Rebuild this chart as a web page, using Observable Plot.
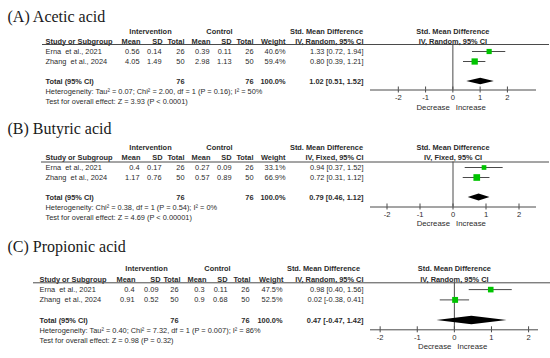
<!DOCTYPE html>
<html><head><meta charset="utf-8">
<script src="https://cdn.jsdelivr.net/npm/d3@7"></script>
<script src="https://cdn.jsdelivr.net/npm/@observablehq/plot@0.6"></script>
<style>
body{margin:0;background:#fff;}
#wrap{position:relative;width:550px;height:358px;overflow:hidden;background:#fff}
#wrap svg{position:absolute;left:0}
</style></head><body><div id="wrap"></div>
<script>
// ---------- shared ----------
const studies = ["Erna\u00a0\u00a0et al., 2021", "Zhang\u00a0\u00a0et al., 2024"];
const totalLabel = "Total (95% CI)";
const axisTicks = [-2, -1, 0, 1, 2];
const nullEffect = 0;

// ---------- (A) Acetic acid ----------
const aTitle = "(A) Acetic acid";
const aMethod = "IV, Random, 95% CI";
const aIntMean = [0.56, 4.05], aIntSD = [0.14, 1.49], aIntN = [26, 50];
const aCtlMean = [0.39, 2.98], aCtlSD = [0.11, 1.13], aCtlN = [26, 50];
const aWeight = [40.6, 59.4];
const aSMD = [1.33, 0.80], aLow = [0.72, 0.39], aHigh = [1.94, 1.21];
const aTotalN = [76, 76];
const aTotal = [1.02, 0.51, 1.52];
const aHet = "Heterogeneity: Tau² = 0.07; Chi² = 2.00, df = 1 (P = 0.16); I² = 50%";
const aTest = "Test for overall effect: Z = 3.93 (P < 0.0001)";

// ---------- (B) Butyric acid ----------
const bTitle = "(B) Butyric acid";
const bMethod = "IV, Fixed, 95% CI";
const bIntMean = [0.4, 1.17], bIntSD = [0.17, 0.76], bIntN = [26, 50];
const bCtlMean = [0.27, 0.57], bCtlSD = [0.09, 0.89], bCtlN = [26, 50];
const bWeight = [33.1, 66.9];
const bSMD = [0.94, 0.72], bLow = [0.37, 0.31], bHigh = [1.52, 1.12];
const bTotalN = [76, 76];
const bTotal = [0.79, 0.46, 1.12];
const bHet = "Heterogeneity: Chi² = 0.38, df = 1 (P = 0.54); I² = 0%";
const bTest = "Test for overall effect: Z = 4.69 (P < 0.00001)";

// ---------- (C) Propionic acid ----------
const cTitle = "(C) Propionic acid";
const cMethod = "IV, Random, 95% CI";
const cIntMean = [0.4, 0.91], cIntSD = [0.09, 0.52], cIntN = [26, 50];
const cCtlMean = [0.3, 0.9], cCtlSD = [0.11, 0.68], cCtlN = [26, 50];
const cWeight = [47.5, 52.5];
const cSMD = [0.98, 0.02], cLow = [0.40, -0.38], cHigh = [1.56, 0.41];
const cTotalN = [76, 76];
const cTotal = [0.47, -0.47, 1.42];
const cHet = "Heterogeneity: Tau² = 0.40; Chi² = 7.32, df = 1 (P = 0.007); I² = 86%";
const cTest = "Test for overall effect: Z = 0.98 (P = 0.32)";

// ---------- layout (pixels): [header right edge, value right edge] ----------
const layoutAB = {
  study: 45, intvC: 150, ctlC: 219, smdC: 326,
  intMean: [140, 139], intSD: [162, 161], intN: [184, 184],
  ctlMean: [210, 209], ctlSD: [231, 231], ctlN: [253, 253],
  weight: [285, 285], smd: [363, 363]
};
const layoutC = {
  study: 39, intvC: 146, ctlC: 217, smdC: 323,
  intMean: [135, 134], intSD: [160, 158], intN: [180, 178],
  ctlMean: [206, 204], ctlSD: [227, 227], ctlN: [250, 249],
  weight: [283, 282], smd: [363, 363]
};
const panels = [
  {P: {title: aTitle, method: aMethod, intMean: aIntMean, intSD: aIntSD, intN: aIntN, ctlMean: aCtlMean, ctlSD: aCtlSD, ctlN: aCtlN,
       weight: aWeight, smd: aSMD, low: aLow, high: aHigh, totalN: aTotalN, total: aTotal, het: aHet, test: aTest},
   L: {top: 0, height: 116, left: 370, right: 535, frameTop: 44, axisY: 89.5, y0: 31, y1: 101, titleY: 21,
       xdom: [-3.02, 3.03], lineLeft: 42, lineRight: 548, cols: layoutAB, dia: 0.33, rMax: 4.6, decDy: 17.2}},
  {P: {title: bTitle, method: bMethod, intMean: bIntMean, intSD: bIntSD, intN: bIntN, ctlMean: bCtlMean, ctlSD: bCtlSD, ctlN: bCtlN,
       weight: bWeight, smd: bSMD, low: bLow, high: bHigh, totalN: bTotalN, total: bTotal, het: bHet, test: bTest},
   L: {top: 116, height: 122, left: 370, right: 535, frameTop: 45.5, axisY: 90.5, y0: 31, y1: 101, titleY: 17.5,
       xdom: [-2.5, 2.5], lineLeft: 41, lineRight: 548, cols: layoutAB, dia: 0.36, rMax: 4.6, decDy: 16.5}},
  {P: {title: cTitle, method: cMethod, intMean: cIntMean, intSD: cIntSD, intN: cIntN, ctlMean: cCtlMean, ctlSD: cCtlSD, ctlN: cCtlN,
       weight: cWeight, smd: cSMD, low: cLow, high: cHigh, totalN: cTotalN, total: cTotal, het: cHet, test: cTest},
   L: {top: 238, height: 120, left: 370, right: 537, frameTop: 44.3, axisY: 91.3, y0: 30.5, y1: 102.6, titleY: 13,
       xdom: [-2.26, 2.24], lineLeft: 33, lineRight: 549, cols: layoutC, dia: 0.42, rMax: 4.6, decDy: 16.7}}
];

const ink = "#2b2b2b";
const lineInk = "#4a4a4a";
const green = "#00c400";

function buildPanel(P, L) {
  const C = L.cols;
  const rows = studies.map((s, i) => ({study: s, row: 2 + i, smd: P.smd[i], lo: P.low[i], hi: P.high[i], w: P.weight[i]}));
  const totRow = 5;
  const [tEst, tLo, tHi] = P.total;
  const diamond = [
    {x: tLo, y1: totRow, y2: totRow},
    {x: tEst, y1: totRow - L.dia, y2: totRow + L.dia},
    {x: tHi, y1: totRow, y2: totRow}
  ];
  const f2 = v => v.toFixed(2);
  const ci = (e, l, h) => `${f2(e)} [${f2(l)}, ${f2(h)}]`;
  const cells = [];
  cells.push({t: "Intervention", row: 0, px: C.intvC, a: "middle", b: true});
  cells.push({t: "Control", row: 0, px: C.ctlC, a: "middle", b: true});
  cells.push({t: "Std. Mean Difference", row: 0, px: C.smdC, a: "middle", b: true});
  cells.push({t: "Study or Subgroup", row: 1, px: C.study, a: "start", b: true});
  [["Mean", "intMean"], ["SD", "intSD"], ["Total", "intN"], ["Mean", "ctlMean"], ["SD", "ctlSD"], ["Total", "ctlN"], ["Weight", "weight"]]
    .forEach(([t, k]) => cells.push({t, row: 1, px: C[k][0], a: "end", b: true}));
  cells.push({t: P.method, row: 1, px: C.smd[0], a: "end", b: true});
  studies.forEach((s, i) => {
    const r = 2 + i;
    cells.push({t: s, row: r, px: C.study, a: "start"});
    cells.push({t: String(P.intMean[i]), row: r, px: C.intMean[1], a: "end"});
    cells.push({t: String(P.intSD[i]), row: r, px: C.intSD[1], a: "end"});
    cells.push({t: String(P.intN[i]), row: r, px: C.intN[1], a: "end"});
    cells.push({t: String(P.ctlMean[i]), row: r, px: C.ctlMean[1], a: "end"});
    cells.push({t: String(P.ctlSD[i]), row: r, px: C.ctlSD[1], a: "end"});
    cells.push({t: String(P.ctlN[i]), row: r, px: C.ctlN[1], a: "end"});
    cells.push({t: P.weight[i].toFixed(1) + "%", row: r, px: C.weight[1], a: "end"});
    cells.push({t: ci(P.smd[i], P.low[i], P.high[i]), row: r, px: C.smd[1], a: "end"});
  });
  cells.push({t: totalLabel, row: totRow, px: C.study, a: "start", b: true});
  cells.push({t: String(P.totalN[0]), row: totRow, px: C.intN[1], a: "end", b: true});
  cells.push({t: String(P.totalN[1]), row: totRow, px: C.ctlN[1], a: "end", b: true});
  cells.push({t: d3.sum(P.weight).toFixed(1) + "%", row: totRow, px: C.weight[1], a: "end", b: true});
  cells.push({t: ci(tEst, tLo, tHi), row: totRow, px: C.smd[1], a: "end", b: true});
  cells.push({t: P.het, row: 6, px: C.study, a: "start"});
  cells.push({t: P.test, row: 7, px: C.study, a: "start"});

  const fh = L.axisY - L.frameTop;
  const marks = [
    Plot.text([P.title], {text: d => d, frameAnchor: "top-left", dx: 7 - L.left, dy: L.titleY - L.frameTop,
      lineAnchor: "bottom", fontFamily: "Liberation Serif, serif", fontSize: 16, fill: "#1a1a1a"}),
    ...cells.map(c => Plot.text([c], {y: "row", text: "t", frameAnchor: "left", dx: c.px - L.left,
      textAnchor: c.a, fontWeight: c.b ? "bold" : "normal", fill: ink})),
    Plot.frame({anchor: "top", insetLeft: -(L.left - L.lineLeft), insetRight: -(L.lineRight - L.right), stroke: lineInk}),
    Plot.frame({anchor: "bottom", stroke: lineInk}),
    Plot.ruleX([nullEffect], {stroke: lineInk}),
    Plot.ruleX(axisTicks, {insetTop: fh - 3, stroke: lineInk}),
    Plot.axisX(axisTicks, {tickSize: 3, tickPadding: 1.5, tickFormat: d => String(d), fontSize: 7.6, label: null, stroke: lineInk, fill: ink}),
    Plot.ruleY(rows, {y: "row", x1: "lo", x2: "hi", stroke: lineInk}),
    Plot.dot(rows, {x: "smd", y: "row", r: "w", symbol: "square", fill: green, stroke: null}),
    Plot.areaY(diamond, {x: "x", y1: "y1", y2: "y2", fill: "#000", curve: "linear"}),
    Plot.text([{t: "Std. Mean Difference", row: 0, x: nullEffect}, {t: P.method, row: 1, x: nullEffect}],
      {x: "x", y: "row", text: "t", fontWeight: "bold", fill: ink}),
    Plot.text([{t: "Decrease", x: nullEffect}], {x: "x", text: "t", frameAnchor: "bottom", lineAnchor: "middle", dy: L.decDy, dx: -3,
      textAnchor: "end", fontSize: 7.8, fill: ink}),
    Plot.text([{t: "Increase", x: nullEffect}], {x: "x", text: "t", frameAnchor: "bottom", lineAnchor: "middle", dy: L.decDy, dx: 3,
      textAnchor: "start", fontSize: 7.8, fill: ink})
  ];

  const svg = Plot.plot({
    width: 550, height: L.height,
    marginLeft: L.left, marginRight: 550 - L.right, marginTop: L.frameTop, marginBottom: L.height - L.axisY,
    x: {domain: L.xdom},
    y: {domain: [0, 7], range: [L.y0, L.y1], axis: null},
    r: {type: "sqrt", domain: [0, 100], range: [0, L.rMax]},
    style: {fontFamily: "Liberation Sans, Arial, sans-serif", fontSize: "7.4px", color: ink, background: "transparent", overflow: "visible"},
    marks
  });
  svg.style.top = L.top + "px";
  return svg;
}

const wrap = document.getElementById("wrap");
panels.forEach(({P, L}) => wrap.appendChild(buildPanel(P, L)));
</script>
</body></html>
